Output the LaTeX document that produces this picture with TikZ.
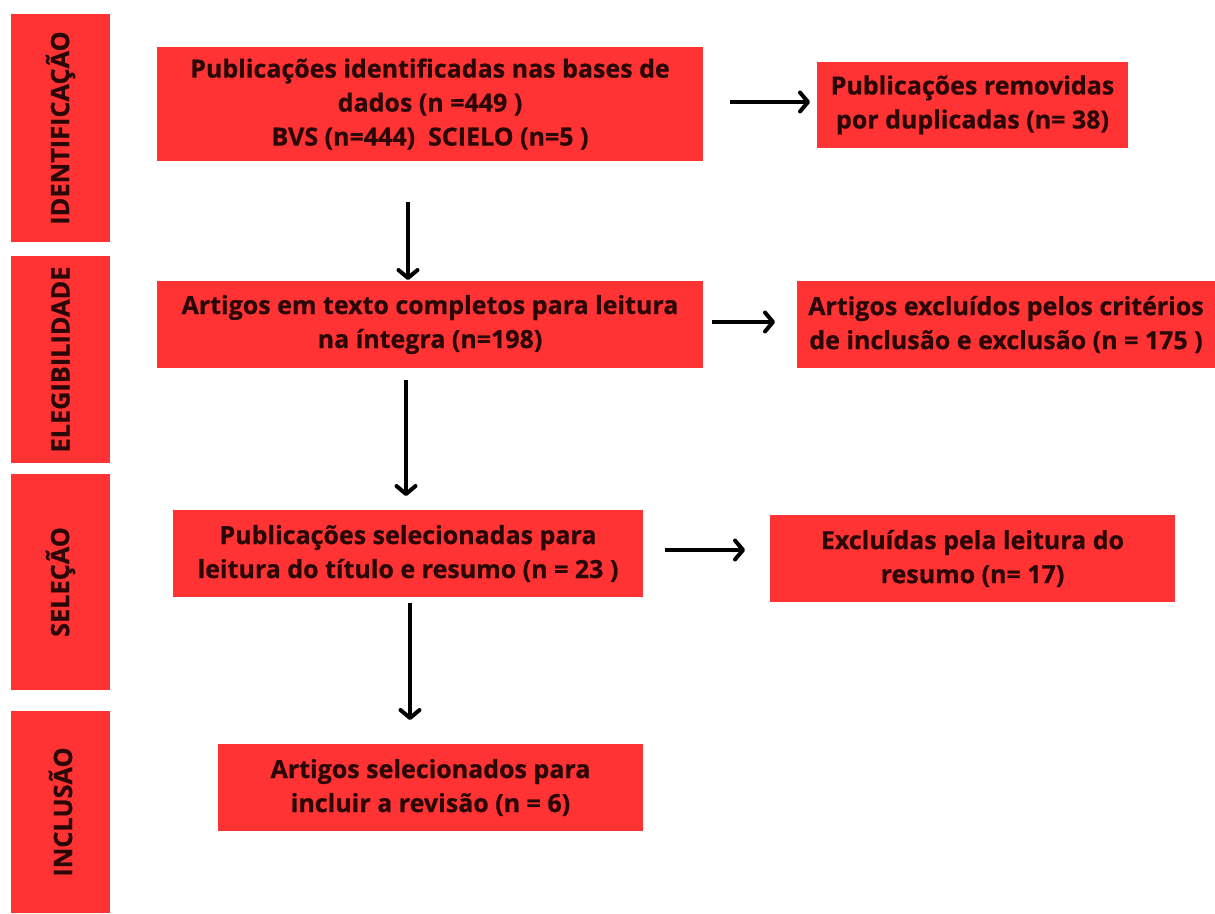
\documentclass[tikz,border=0pt]{standalone}
\usepackage{fontspec}
\setmainfont{Open Sans}[BoldFeatures={FakeBold=0.6}]
\usetikzlibrary{arrows.meta}
\definecolor{boxred}{HTML}{FF3333}
\definecolor{boxtext}{HTML}{2A0808}
\begin{document}
\begin{tikzpicture}[x=1pt,y=-1pt,
  redbox/.style={rectangle, fill=boxred, draw=none, inner sep=0pt, align=center,
    text=boxtext, font=\fontsize{25}{34}\selectfont\bfseries},
  sidebox/.style={rectangle, fill=boxred, draw=none, inner sep=0pt,
    text=boxtext, font=\fontsize{25.3}{28}\selectfont\bfseries, rotate=90},
  flow/.style={line width=4pt, -{Straight Barb[length=8pt,width=19pt,line width=4pt, line cap=round, line join=round]}}
]
\useasboundingbox (0,0) rectangle (1215,913);
\fill[white] (0,0) rectangle (1215,913);

% sidebar
\node[sidebox, minimum width=228pt, minimum height=99pt] (s1) at (60.5,128) {IDENTIFICAÇÃO};
\node[sidebox, minimum width=207pt, minimum height=99pt] (s2) at (60.5,359.5) {ELEGIBILIDADE};
\node[sidebox, minimum width=216pt, minimum height=99pt] (s3) at (60.5,582) {SELEÇÃO};
\node[sidebox, minimum width=202pt, minimum height=99pt] (s4) at (60.5,812) {INCLUSÃO};

% main boxes
\node[redbox, minimum width=546pt, minimum height=114pt] (b1) at (430,104)
  {Publicações identificadas nas bases de\\ dados (n =449 )\\ BVS (n=444)\ \ SCIELO (n=5 )};
\node[redbox, minimum width=311pt, minimum height=86pt] (b2) at (972.5,105)
  {Publicações removidas\\ por duplicadas (n= 38)};
\node[redbox, minimum width=546pt, minimum height=87pt] (b3) at (430,324.5)
  {Artigos em texto completos para leitura\\ na íntegra (n=198)};
\node[redbox, minimum width=418pt, minimum height=87pt] (b4) at (1006,324.5)
  {Artigos excluídos pelos critérios\\ de inclusão e exclusão (n = 175 )};
\node[redbox, minimum width=470pt, minimum height=87pt] (b5) at (408,553.5)
  {Publicações selecionadas para\\ leitura do título e resumo (n = 23 )};
\node[redbox, minimum width=405pt, minimum height=87pt] (b6) at (972.5,558.5)
  {Excluídas pela leitura do\\ resumo (n= 17)};
\node[redbox, minimum width=425pt, minimum height=87pt] (b7) at (430.5,787.5)
  {Artigos selecionados para\\ incluir a revisão (n = 6)};

% arrow start and end points
\coordinate (a1s) at (730,102);
\coordinate (a1e) at (810,102);
\coordinate (a2s) at (712,322);
\coordinate (a2e) at (775,322);
\coordinate (a3s) at (665,550);
\coordinate (a3e) at (745,550);
\coordinate (v1s) at (408,202);
\coordinate (v1e) at (408,280);
\coordinate (v2s) at (406,380);
\coordinate (v2e) at (406,496);
\coordinate (v3s) at (410,603);
\coordinate (v3e) at (410,720);

\draw[flow] (a1s) -- (a1e);
\draw[flow] (a2s) -- (a2e);
\draw[flow] (a3s) -- (a3e);
\draw[flow] (v1s) -- (v1e);
\draw[flow] (v2s) -- (v2e);
\draw[flow] (v3s) -- (v3e);
\end{tikzpicture}
\end{document}
